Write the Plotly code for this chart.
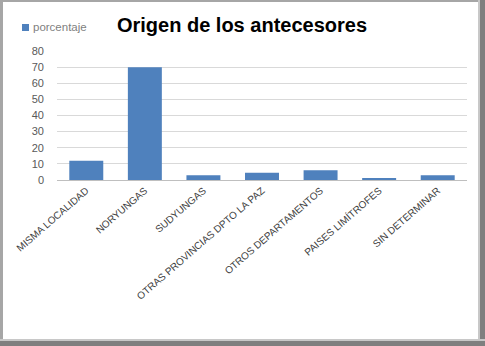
import plotly.graph_objects as go

categories = ["MISMA LOCALIDAD", "NORYUNGAS", "SUDYUNGAS", "OTRAS PROVINCIAS DPTO LA PAZ",
              "OTROS DEPARTAMENTOS", "PAISES LIMÍTROFES", "SIN DETERMINAR"]
porcentaje = [12, 70, 3, 4.5, 6, 1, 3]
y_ticks = [0, 10, 20, 30, 40, 50, 60, 70, 80]
series_name = "porcentaje"
title_text = "Origen de los antecesores"

W, H = 485, 346
L, R, T, B = 57, 18, 51, 166
pw, ph = W - L - R, H - T - B

def px(x):
    return (x - L) / pw

def py(y):
    return (H - B - y) / ph

BAR = "#4f81bd"
FONT = "Liberation Sans"

fig = go.Figure()
fig.add_trace(go.Bar(x=categories, y=porcentaje, name=series_name,
                     marker=dict(color=BAR, line=dict(width=0)), showlegend=False))

shapes = [
    # frame
    dict(type="rect", xref="paper", yref="paper", x0=px(0), x1=px(3), y0=py(H), y1=py(0),
         fillcolor="#a6a6a6", line=dict(width=0), layer="above"),
    dict(type="rect", xref="paper", yref="paper", x0=px(0), x1=px(W), y0=py(2), y1=py(0),
         fillcolor="#a6a6a6", line=dict(width=0), layer="above"),
    dict(type="rect", xref="paper", yref="paper", x0=px(478), x1=px(480), y0=py(H), y1=py(0),
         fillcolor="#c8c8c8", line=dict(width=0), layer="above"),
    dict(type="rect", xref="paper", yref="paper", x0=px(480), x1=px(W), y0=py(H), y1=py(0),
         fillcolor="#7f7f7f", line=dict(width=0), layer="above"),
    dict(type="rect", xref="paper", yref="paper", x0=px(0), x1=px(W), y0=py(341), y1=py(339),
         fillcolor="#c8c8c8", line=dict(width=0), layer="above"),
    dict(type="rect", xref="paper", yref="paper", x0=px(0), x1=px(W), y0=py(H), y1=py(341),
         fillcolor="#7f7f7f", line=dict(width=0), layer="above"),
    # legend key
    dict(type="rect", xref="paper", yref="paper", x0=px(22), x1=px(29), y0=py(31), y1=py(24),
         fillcolor=BAR, line=dict(width=0)),
]

annotations = [
    dict(text=series_name, xref="paper", yref="paper", x=px(31), y=py(27.5),
         xanchor="left", yanchor="middle", showarrow=False,
         font=dict(family=FONT, size=11.5, color="#7f7f7f")),
]

fig.update_layout(
    width=W, height=H,
    margin=dict(l=L, r=R, t=T, b=B, pad=0),
    paper_bgcolor="white", plot_bgcolor="white",
    title=dict(text="<b>" + title_text + "</b>", xref="paper", x=px(242), xanchor="center",
               yref="container", y=1 - 25 / H, yanchor="middle",
               font=dict(family=FONT, size=20, color="#000000")),
    bargap=0.42,
    shapes=shapes,
    annotations=annotations,
    xaxis=dict(tickangle=-41, tickfont=dict(family=FONT, size=10, color="#404040"),
               showline=True, linecolor="#bfbfbf", linewidth=1, ticks="", showgrid=False,
               automargin=False),
    yaxis=dict(range=[0, 80], tickvals=y_ticks, showgrid=True, gridcolor="#d9d9d9", gridwidth=1,
               zeroline=False, showline=False, ticks="", ticklabelstandoff=12,
               tickfont=dict(family=FONT, size=11, color="#595959"), automargin=False),
    font=dict(family=FONT),
)

fig.write_html("out.html", config={"displayModeBar": False},
               post_script="document.body.style.margin='0';document.body.style.overflow='hidden';")
